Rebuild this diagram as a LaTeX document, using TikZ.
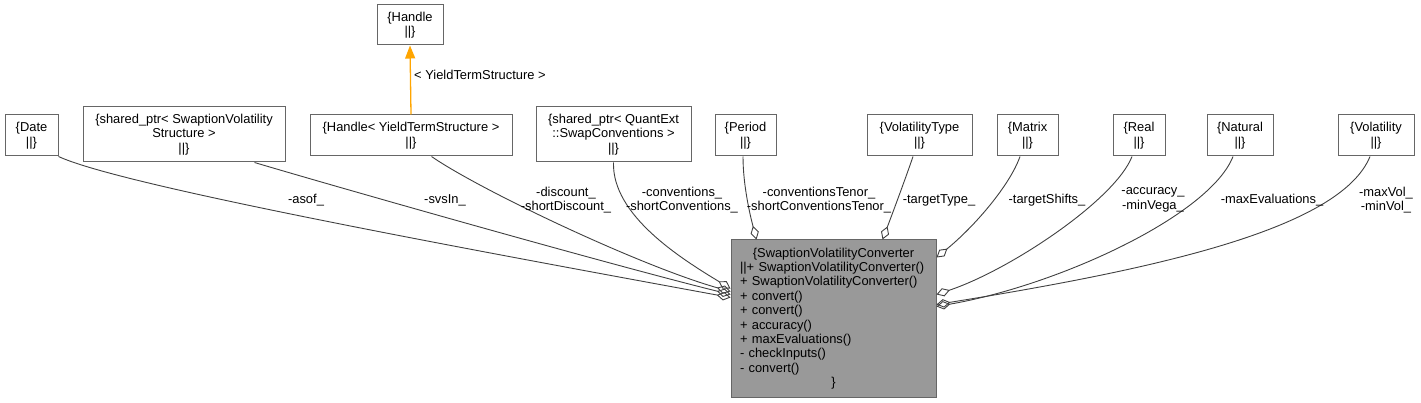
\documentclass[tikz,border=0pt]{standalone}
\usepackage{fontspec}
\setmainfont{Liberation Sans}
\usetikzlibrary{arrows.meta,calc}
\definecolor{boxc}{HTML}{666666}
\definecolor{edgec}{HTML}{404040}
\definecolor{mainfill}{HTML}{999999}
\definecolor{inhc}{HTML}{FFA500}
\newcommand\dgfont{\fontsize{12.9pt}{14.4pt}\selectfont}
\begin{document}
\begin{tikzpicture}[x=1pt,y=-1pt,
  cls/.style={draw=boxc, fill=white, line width=1pt, inner sep=0pt, align=center, font=\dgfont, minimum height=41pt},
  mainbox/.style={draw=boxc, fill=mainfill, line width=1pt, inner xsep=9pt, inner ysep=0pt, font=\dgfont},
  assoc/.style={draw=edgec, line width=0.9pt, {Diamond[open,length=14pt,width=8.5pt]}-},
  inh/.style={draw=inhc, line width=1.3pt, -{Triangle[length=13pt,width=10pt]}},
  lbl/.style={font=\dgfont, align=center, inner sep=0pt}]
\useasboundingbox (0,0) rectangle (1421,403);

% class boxes
\node[cls, minimum width=53pt] (date) at (31.5,135.5) {\{Date\\||\}};
\node[cls, minimum width=202pt, minimum height=55pt] (svs) at (184,134.5) {\{shared\_ptr< SwaptionVolatility\\Structure >\\||\}};
\node[cls, minimum width=202pt] (yts) at (411,135.5) {\{Handle< YieldTermStructure >\\||\}};
\node[cls, minimum width=66pt, minimum height=40pt] (handle) at (410,25) {\{Handle\\||\}};
\node[cls, minimum width=155pt, minimum height=55pt] (conv) at (613.5,134.5) {\{shared\_ptr< QuantExt\\::SwapConventions >\\||\}};
\node[cls, minimum width=61pt] (period) at (745.5,135.5) {\{Period\\||\}};
\node[cls, minimum width=105pt] (voltype) at (919.5,135.5) {\{VolatilityType\\||\}};
\node[cls, minimum width=61pt] (matrix) at (1027.5,135.5) {\{Matrix\\||\}};
\node[cls, minimum width=52pt] (real) at (1139,135.5) {\{Real\\||\}};
\node[cls, minimum width=66pt] (natural) at (1240,135.5) {\{Natural\\||\}};
\node[cls, minimum width=76pt] (vol) at (1376,135.5) {\{Volatility\\||\}};

\node[mainbox, minimum width=205pt, minimum height=157pt, text width=187pt] (main) at (833.5,318.5)
  {{\centering\{SwaptionVolatilityConverter\par}\raggedright
   ||+ SwaptionVolatilityConverter()\\
   + SwaptionVolatilityConverter()\\
   + convert()\\
   + convert()\\
   + accuracy()\\
   + maxEvaluations()\\
   - checkInputs()\\
   - convert()\par
   {\centering\}\par}};

% inheritance (template instance)
\draw[inh] (yts.north) -- (handle.south);
\node[lbl, anchor=west] (lblh) at (414,75) {< YieldTermStructure >};

% associations, left side
\draw[assoc] ($(main.north west)+(0,58)$) .. controls (450,246) and (120,185) .. (date.south east);
\draw[assoc] ($(main.north west)+(0,55)$) .. controls (600,262) and (330,185) .. ($(svs.south west)+(172,0)$);
\draw[assoc] ($(main.north west)+(0,52)$) .. controls (640,266) and (480,190) .. ($(yts.south west)+(122,0)$);
\draw[assoc] ($(main.north west)+(0,49)$) .. controls (680,258) and (612,215) .. (conv.south);
% top
\draw[assoc] ($(main.north west)+(26,0)$) .. controls (750,215) and (743,185) .. ($(period.south)+(-2.5,0)$);
\draw[assoc] ($(main.north west)+(152,0)$) .. controls (890,220) and (905,180) .. ($(voltype.south)+(-6.5,0)$);
% right side
\draw[assoc] ($(main.north east)+(0,18)$) .. controls (975,226) and (1010,185) .. ($(matrix.south)+(-7.5,0)$);
\draw[assoc] ($(main.north east)+(0,55)$) .. controls (1010,270) and (1115,200) .. ($(real.south)+(-7,0)$);
\draw[assoc] ($(main.north east)+(0,67)$) .. controls (1060,285) and (1210,215) .. ($(natural.south)+(-7,0)$);
\draw[assoc] ($(main.north east)+(0,65)$) .. controls (1150,270) and (1340,230) .. ($(vol.south)+(-6,0)$);

% labels
\node[lbl] (l1) at (306,200) {-asof\_};
\node[lbl] (l2) at (445,200) {-svsIn\_};
\node[lbl] (l3) at (566,200) {-discount\_\\-shortDiscount\_};
\node[lbl] (l4) at (682,200) {-conventions\_\\-shortConventions\_};
\node[lbl] (l5) at (819,200) {-conventionsTenor\_\\-shortConventionsTenor\_};
\node[lbl] (l6) at (939,200) {-targetType\_};
\node[lbl] (l7) at (1047,200) {-targetShifts\_};
\node[lbl] (l8) at (1153,200) {-accuracy\_\\-minVega\_};
\node[lbl] (l9) at (1272,200) {-maxEvaluations\_};
\node[lbl] (l10) at (1386,200) {-maxVol\_\\-minVol\_};
\end{tikzpicture}
\end{document}
